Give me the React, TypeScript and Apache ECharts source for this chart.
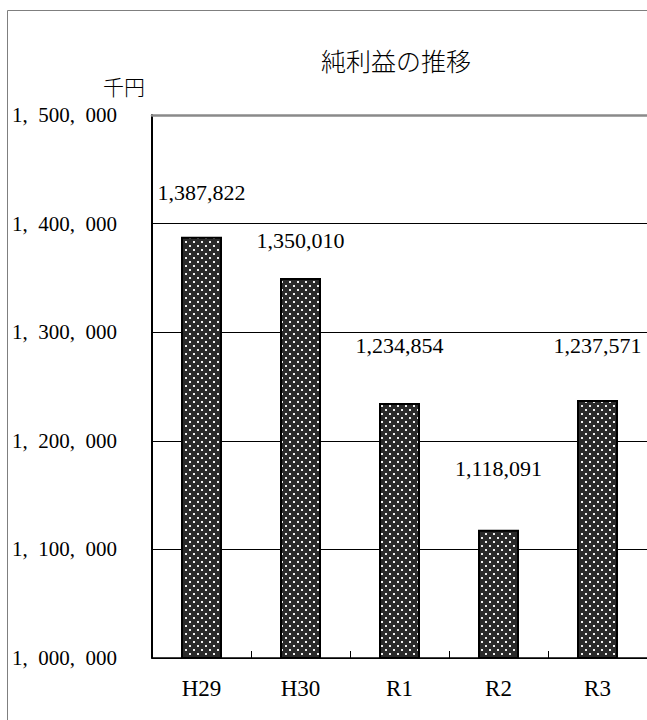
import React, { useEffect, useRef } from "react";
import * as echarts from "echarts";

// Fiscal years and net profit (thousand yen)
const years = ["H29", "H30", "R1", "R2", "R3"];
const netProfit = [1387822, 1350010, 1234854, 1118091, 1237571];

// Value axis range
const axisMin = 1000000;
const axisMax = 1500000;
const axisStep = 100000;

// Gap between each bar top and its value label
const labelLift = [33, 26, 46, 50, 43];

const W = 647;
const H = 720;

const serif = "Liberation Serif";
const cjk = "Noto Sans CJK JP";

// Dark fill with a staggered grid of white dots
function dotTile(): string {
  const c = document.createElement("canvas");
  c.width = 8;
  c.height = 8;
  const g = c.getContext("2d")!;
  g.fillStyle = "#2a2a2a";
  g.fillRect(0, 0, 8, 8);
  g.fillStyle = "#f0f0f0";
  g.fillRect(1, 1, 2, 2);
  g.fillRect(5, 5, 2, 2);
  return c.toDataURL();
}

const withCommas = (v: number) => v.toLocaleString("en-US");
// Axis labels use a comma followed by an en space
const withSpacedCommas = (v: number) =>
  String(v).replace(/\B(?=(\d{3})+(?!\d))/g, ",\u2002");

export default function App() {
  const ref = useRef<HTMLDivElement>(null);

  useEffect(() => {
    if (!ref.current) return;
    const chart = echarts.init(ref.current, undefined, { renderer: "svg" });

    const pattern = {
      image: dotTile(),
      repeat: "repeat",
      imageWidth: 8,
      imageHeight: 8,
    };

    chart.setOption({
      animation: false,
      backgroundColor: "#ffffff",
      title: {
        text: "純利益の推移",
        left: 316,
        top: 42,
        textStyle: {
          fontFamily: cjk,
          fontSize: 25,
          fontWeight: 300,
          color: "#000",
        },
      },
      graphic: [
        {
          type: "rect",
          silent: true,
          z: -10,
          shape: { x: 7.5, y: 10.5, width: 800, height: 800 },
          style: { fill: "none", stroke: "#7f7f7f", lineWidth: 1 },
        },
        {
          type: "text",
          silent: true,
          style: {
            text: "千円",
            x: 145,
            y: 86,
            align: "right",
            verticalAlign: "middle",
            fontFamily: cjk,
            fontSize: 21,
            fontWeight: 300,
            fill: "#000",
          },
        },
      ],
      grid: { left: 152, top: 115, width: 500, height: 543, containLabel: false },
      xAxis: [
        {
          type: "category",
          data: years,
          position: "bottom",
          axisLine: { lineStyle: { color: "#000", width: 1.5 } },
          axisTick: {
            show: true,
            inside: true,
            length: 7,
            lineStyle: { color: "#000", width: 1 },
          },
          axisLabel: {
            margin: 19,
            fontFamily: serif,
            fontSize: 23,
            color: "#000",
          },
          splitLine: { show: false },
        },
        {
          type: "category",
          data: years,
          position: "top",
          axisLine: { lineStyle: { color: "#8a8a8a", width: 2.5 } },
          axisTick: { show: false },
          axisLabel: { show: false },
          splitLine: { show: false },
        },
      ],
      yAxis: {
        type: "value",
        min: axisMin,
        max: axisMax,
        interval: axisStep,
        axisLine: { show: true, lineStyle: { color: "#000", width: 2 } },
        axisTick: { show: false },
        axisLabel: {
          align: "left",
          margin: 140,
          fontFamily: serif,
          fontSize: 21,
          color: "#000",
          formatter: (v: number) => withSpacedCommas(v),
        },
        splitLine: {
          show: true,
          lineStyle: {
            color: ["#000", "#000", "#000", "#000", "#000", "#8a8a8a"],
            width: 1,
          },
        },
      },
      series: [
        {
          type: "bar",
          xAxisIndex: 0,
          barWidth: 41,
          data: netProfit.map((v, i) => ({
            value: v,
            label: { distance: labelLift[i] },
          })),
          itemStyle: {
            color: pattern,
            borderColor: "#000",
            borderWidth: 2,
          },
          label: {
            show: true,
            position: "top",
            fontFamily: serif,
            fontSize: 22,
            color: "#000",
            formatter: (p: any) => withCommas(p.value),
          },
        },
      ],
    });

    return () => chart.dispose();
  }, []);

  return (
    <div
      style={{
        position: "absolute",
        left: 0,
        top: 0,
        width: W,
        height: H,
        overflow: "hidden",
        background: "#fff",
      }}
    >
      <div ref={ref} style={{ width: W, height: H }} />
    </div>
  );
}
